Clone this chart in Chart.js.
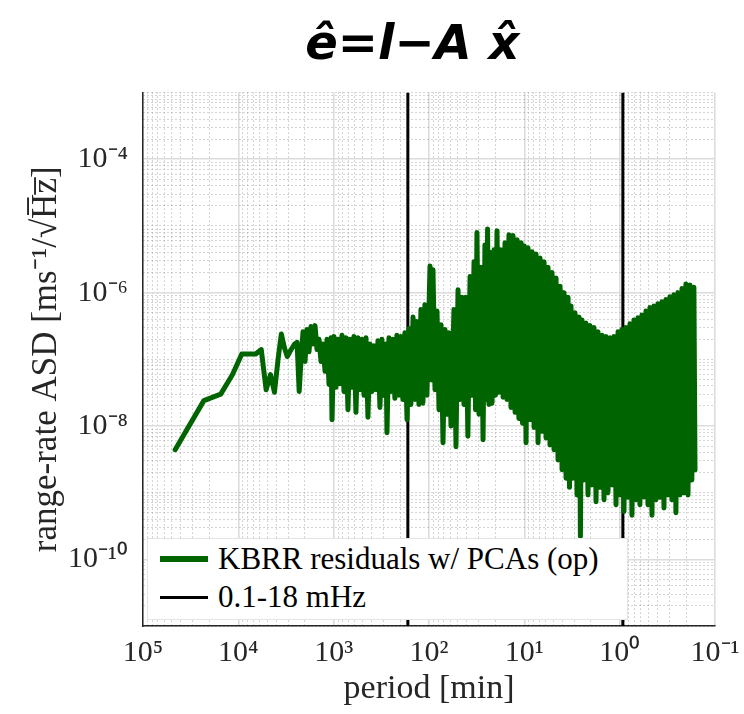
<!DOCTYPE html>
<html>
<head>
<meta charset="utf-8">
<script src="https://cdn.jsdelivr.net/npm/chart.js@4/dist/chart.umd.min.js"></script>
<style>
  html, body { margin: 0; padding: 0; background: #fff; }
  #wrap { position: relative; width: 744px; height: 714px; }
  #legend {
    position: absolute; background: #fff; border: 1px solid #e4e4e4;
    font-family: "Liberation Serif", serif; font-size: 31px; color: #000;
    padding: 1px 10px 1px 12px; box-sizing: border-box; white-space: nowrap;
  }
  #legend .item { display: flex; align-items: center; height: 38px; }
  #legend .swatch { width: 48px; margin-right: 10px; }
</style>
</head>
<body>
<div id="wrap">
  <canvas id="chart" width="744" height="714"></canvas>
  <div id="legend"></div>
</div>
<script>
// period [min] of each sample (one row per ten points)
const periodMin = [
  46000, 23000, 15300, 11500, 9200, 7670, 6570, 5750, 5110, 4600,
  4180, 3830, 3540, 3290, 3070, 2880, 2710, 2560, 2420, 2300,
  2200, 2096, 1997, 1903, 1814, 1728, 1646, 1569, 1495, 1424,
  1357, 1293, 1232, 1174, 1119, 1066, 1041, 993, 946, 901,
  859, 818, 780, 743, 708, 675, 643, 613, 584, 556,
  530, 505, 481, 458, 437, 416, 397, 378, 360, 343,
  327, 312, 297, 283, 276, 263, 251, 239, 228, 217,
  207, 197, 188, 179, 170, 162, 155, 147, 140, 134,
  127.5, 121.5, 115.8, 110.4, 105.2, 97.6, 94.1, 90.8, 86.5, 82.4,
  78.5, 74.8, 71.3, 67.9, 64.7, 61.7, 58.8, 54.7, 52.1, 49.6,
  47.3, 45.1, 43.0, 41.0, 39.1, 37.1, 35.4, 33.7, 32.5, 31.4,
  29.9, 28.5, 27.1, 25.9, 25.2, 24.3, 23.5, 22.65, 21.8, 20.8,
  20.1, 19.35, 18.4, 17.6, 16.7, 15.95, 15.2, 14.5, 13.8, 13.15,
  12.5, 11.9, 11.4, 10.8, 10.45, 10.0, 9.6, 9.15, 8.7, 8.3,
  7.9, 7.54, 7.18, 6.84, 6.52, 6.21, 5.92, 5.64, 5.38, 5.12,
  4.88, 4.65, 4.43, 4.22, 4.02, 3.83, 3.65, 3.48, 3.36, 3.24,
  3.09, 2.94, 2.80, 2.67, 2.58, 2.49, 2.37, 2.26, 2.15, 2.05,
  1.96, 1.86, 1.77, 1.69, 1.61, 1.53, 1.46, 1.39, 1.325, 1.26,
  1.20, 1.146, 1.092, 1.04, 0.993, 0.946, 0.901, 0.859, 0.818, 0.780,
  0.743, 0.708, 0.675, 0.643, 0.613, 0.584, 0.556, 0.530, 0.505, 0.481,
  0.458, 0.437, 0.416, 0.397, 0.378, 0.360, 0.343, 0.327, 0.312, 0.297,
  0.283, 0.270, 0.257, 0.245, 0.233, 0.222, 0.212, 0.202, 0.192, 0.183,
  0.175, 0.1665, 0.162
];

// range-rate ASD [m/s/sqrt(Hz)] at those periods
const residualAsd = [
  4.4e-9, 2.4e-8, 3.0e-8, 5.9e-8, 1.2e-7, 1.2e-7, 1.2e-7, 1.4e-7, 3.5e-8, 5.9e-8,
  3.2e-8, 1.0e-7, 2.4e-7, 1.5e-7, 1.1e-7, 1.3e-7, 1.5e-7, 1.7e-7, 1.8e-7, 3.3e-8,
  9.9e-8, 2.6e-7, 9.3e-8, 2.8e-7, 1.3e-7, 3.1e-7, 1.7e-7, 3.2e-7, 1.4e-7, 2.0e-7,
  9.3e-8, 1.7e-7, 6.6e-8, 2.0e-7, 4.2e-8, 2.1e-7, 1.24e-8, 2.2e-7, 3.8e-8, 2.0e-7,
  4.3e-8, 2.3e-7, 3.3e-8, 2.1e-7, 1.75e-8, 2.0e-7, 3.8e-8, 2.2e-7, 1.6e-8, 2.1e-7,
  3.5e-8, 2.0e-7, 2.9e-8, 2.1e-7, 1.35e-8, 1.7e-7, 3.3e-8, 1.6e-7, 3.5e-8, 1.9e-7,
  1.9e-8, 2.0e-7, 2.9e-8, 1.7e-7, 7.9e-9, 2.1e-7, 3.3e-8, 2.0e-7, 2.6e-8, 2.3e-7,
  2.9e-8, 2.2e-7, 2.5e-8, 2.5e-7, 1.24e-8, 2.9e-7, 2.1e-8, 4.3e-7, 2.5e-8, 3.7e-7,
  2.1e-8, 5.6e-7, 2.2e-8, 6.6e-7, 2.9e-8, 2.5e-6, 4.9e-8, 2.2e-6, 3.5e-8, 5.3e-7,
  1.75e-8, 3.3e-7, 5.6e-9, 2.8e-7, 1.5e-8, 2.5e-7, 1.0e-8, 5.6e-7, 4.9e-9, 1.1e-6,
  2.5e-8, 8.5e-7, 2.1e-8, 8.5e-7, 7.0e-9, 1.75e-6, 2.9e-8, 2.9e-6, 1.75e-8, 8.0e-6,
  1.5e-8, 2.4e-6, 6.2e-9, 5.2e-6, 2.5e-8, 9.0e-6, 2.1e-8, 4.0e-6, 2.2e-8, 4.4e-6,
  2.9e-8, 8.5e-6, 3.2e-8, 4.4e-6, 2.7e-8, 5.6e-6, 2.5e-8, 7.4e-6, 1.9e-8, 7.2e-6,
  1.6e-8, 6.2e-6, 1.3e-8, 5.6e-6, 1.1e-8, 5.0e-6, 5.6e-9, 4.7e-6, 1.24e-8, 4.1e-6,
  9.5e-9, 3.8e-6, 5.6e-9, 3.3e-6, 8.3e-9, 2.9e-6, 6.6e-9, 2.4e-6, 5.2e-9, 2.0e-6,
  4.4e-9, 1.65e-6, 3.1e-9, 1.25e-6, 2.2e-9, 1.0e-6, 1.65e-9, 8.5e-7, 1.2e-9, 6.3e-7,
  1.65e-9, 5.0e-7, 9.2e-10, 4.3e-7, 2.2e-10, 3.9e-7, 1.55e-9, 3.5e-7, 9.2e-10, 3.2e-7,
  1.3e-9, 3.0e-7, 7.3e-10, 2.6e-7, 1.2e-9, 2.3e-7, 7.8e-10, 2.2e-7, 1.0e-9, 2.1e-7,
  1.3e-9, 2.2e-7, 6.6e-10, 2.6e-7, 9.2e-10, 2.8e-7, 5.2e-10, 3.0e-7, 8.5e-10, 3.4e-7,
  4.6e-10, 3.9e-7, 7.8e-10, 4.2e-7, 6.6e-10, 4.6e-7, 8.6e-10, 5.3e-7, 6.6e-10, 6.0e-7,
  4.6e-10, 6.3e-7, 7.8e-10, 6.8e-7, 8.5e-10, 7.3e-7, 5.9e-10, 7.9e-7, 9.2e-10, 8.7e-7,
  7.8e-10, 9.3e-7, 5.0e-10, 1.0e-6, 9.2e-10, 1.15e-6, 1.0e-9, 1.35e-6, 9.2e-10, 1.3e-6,
  1.55e-9, 1.2e-6, 2.2e-9
];

// band limits 0.1 mHz and 18 mHz, as periods in minutes
const bandEdgesMin = [166.67, 0.926];
const yLimits = [1e-11, 1e-3];
const xLimits = [0.1, 1e5];
const xLabelExps = [5, 4, 3, 2, 1, 0, -1];
const yLabelExps = [-4, -6, -8, -10];
const seriesLabels = ['KBRR residuals w/ PCAs (op)', '0.1-18 mHz'];
const seriesColors = ['#006400', '#000000'];

const SUP = { '-': '⁻', '0': '⁰', '1': '¹', '2': '²', '3': '³', '4': '⁴', '5': '⁵', '6': '⁶', '7': '⁷', '8': '⁸', '9': '⁹' };
const pow10 = e => '10' + String(e).split('').map(c => SUP[c]).join('');

// log ticks at 1..9 x 10^n; "grid" marks the solid (decade) lines
function logTicks(eMin, eMax, isSolid, labelled) {
  const out = [];
  for (let e = eMin; e <= eMax; e++) {
    for (let m = 1; m <= 9; m++) {
      if (e === eMax && m > 1) break;
      out.push({
        value: m * Math.pow(10, e),
        grid: m === 1 && isSolid(e),
        lbl: m === 1 && labelled.includes(e) ? pow10(e) : ''
      });
    }
  }
  return out;
}
const xTicks = logTicks(-1, 5, () => true, xLabelExps);
const yTicks = logTicks(-11, -3, e => e % 2 === 0, yLabelExps);

const serif = '"Liberation Serif", "Times New Roman", serif';

const gridOpts = {
  drawTicks: false,
  color: c => (c.tick && c.tick.grid) ? '#dcdcdc' : 'rgba(115,115,115,0.6)',
  lineWidth: c => (c.tick && c.tick.grid) ? 1.6 : 1
};
const borderOpts = {
  display: true, color: '#262626', width: 1.5,
  dash: c => (c.tick && !c.tick.grid) ? [1, 3] : []
};

const datasets = [{
  label: seriesLabels[0],
  data: periodMin.map((p, i) => ({ x: p, y: residualAsd[i] })),
  borderColor: seriesColors[0],
  borderWidth: 5,
  borderJoinStyle: 'round',
  borderCapStyle: 'round',
  pointRadius: 0,
  order: 0
}];
bandEdgesMin.forEach(p => {
  datasets.push({
    label: seriesLabels[1],
    data: yLimits.map(y => ({ x: p, y })),
    borderColor: seriesColors[1],
    borderWidth: 3,
    pointRadius: 0,
    order: 1
  });
});

const chart = new Chart(document.getElementById('chart'), {
  type: 'line',
  data: { datasets },
  options: {
    responsive: false,
    animation: false,
    layout: { padding: { left: 0, right: 29, top: 0, bottom: 0 } },
    plugins: {
      legend: { display: false },
      tooltip: { enabled: false },
      title: {
        display: true,
        // trailing spaces nudge the centred title a little to the left, as in the original
        text: 'ê=l−A x̂  ',
        color: '#000',
        fullSize: false,
        font: { family: '"DejaVu Sans"', size: 48, weight: 'bold', style: 'italic' },
        padding: { top: 18, bottom: 17 }
      }
    },
    scales: {
      x: {
        type: 'logarithmic',
        reverse: true,
        min: xLimits[0], max: xLimits[1],
        afterBuildTicks: s => { s.ticks = xTicks.map(t => ({ ...t })); },
        afterFit: s => { s.height = 88; },
        grid: gridOpts,
        border: borderOpts,
        ticks: {
          autoSkip: false, maxRotation: 0, padding: 9, color: '#262626',
          font: { family: serif, size: 30 },
          callback: (v, i, ticks) => ticks[i].lbl
        },
        title: {
          display: true, text: 'period [min]', color: '#262626',
          font: { family: serif, size: 34 }, padding: { top: 0, bottom: 5 }
        }
      },
      y: {
        type: 'logarithmic',
        min: yLimits[0], max: yLimits[1],
        afterBuildTicks: s => { s.ticks = yTicks.map(t => ({ ...t })); },
        afterFit: s => { s.width = 143; },
        grid: gridOpts,
        border: borderOpts,
        ticks: {
          autoSkip: false, padding: 15, color: '#262626',
          font: { family: serif, size: 30 },
          callback: (v, i, ticks) => ticks[i].lbl
        },
        title: {
          display: true, text: 'range-rate ASD [ms⁻¹/√H̅z̅]', color: '#262626',
          font: { family: serif, size: 35 }, padding: { top: 26, bottom: 0 }
        }
      }
    }
  }
});

// legend box in the lower-left corner of the plot area
const legend = document.getElementById('legend');
const area = chart.chartArea;
legend.style.left = (area.left + 4) + 'px';
legend.style.top = (area.bottom - 88) + 'px';
legend.style.width = '481px';
legend.style.height = '82px';
seriesLabels.forEach((label, i) => {
  const item = document.createElement('div');
  item.className = 'item';
  const sw = document.createElement('div');
  sw.className = 'swatch';
  sw.style.height = (i === 0 ? 6 : 3) + 'px';
  sw.style.background = seriesColors[i];
  const txt = document.createElement('span');
  txt.textContent = label;
  item.appendChild(sw);
  item.appendChild(txt);
  legend.appendChild(item);
});
</script>
</body>
</html>
